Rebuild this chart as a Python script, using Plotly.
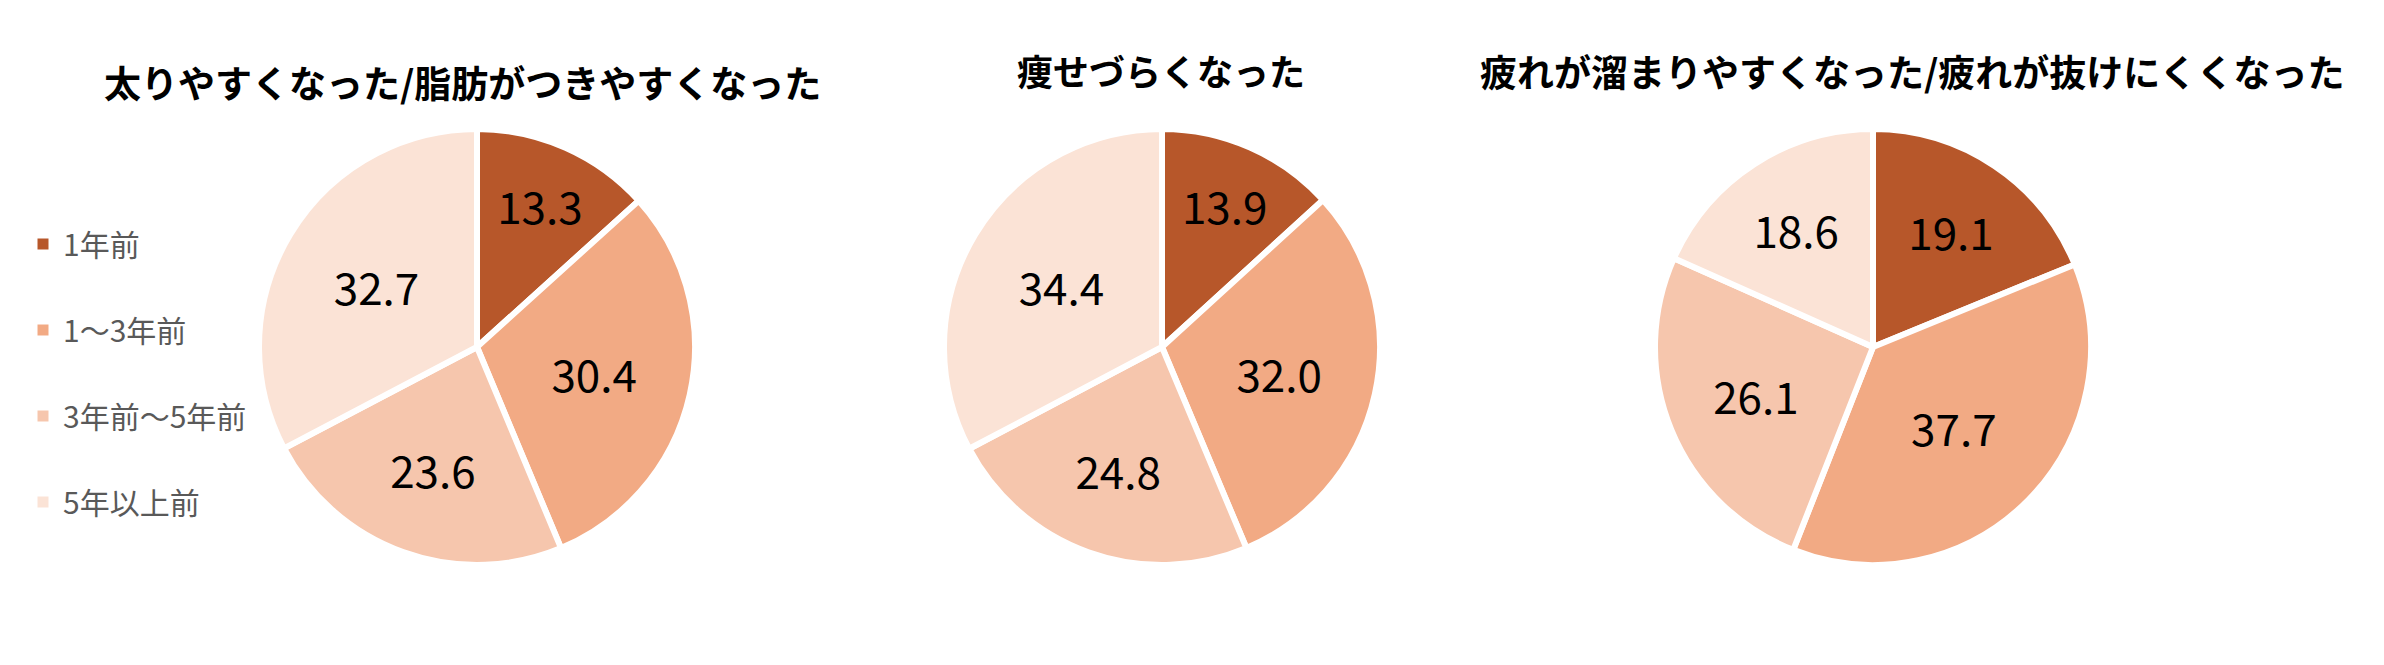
import plotly.graph_objects as go

W, H = 2384, 665

categories = ["1年前", "1～3年前", "3年前～5年前", "5年以上前"]
colors = ["#B7572A", "#F2AA84", "#F6C6AD", "#FBE3D6"]

titles = [
    "太りやすくなった/脂肪がつきやすくなった",
    "痩せづらくなった",
    "疲れが溜まりやすくなった/疲れが抜けにくくなった",
]
values_fat = [13.3, 30.4, 23.6, 32.7]
values_slim = [13.9, 32.0, 24.8, 34.4]
values_tired = [19.1, 37.7, 26.1, 18.6]
all_values = [values_fat, values_slim, values_tired]

# page body has an 8px default margin; compensate so the picture lines up
OFF = 8
centers_x = [477 - OFF, 1162 - OFF, 1873 - OFF]
center_y = 347 - OFF
radius = 218
title_x = [462 - OFF, 1161 - OFF, 1912 - OFF]
title_y = [74, 62, 63]
title_size = [37, 36, 37]

FONT = "Noto Sans CJK JP"

fig = go.Figure()
for i, vals in enumerate(all_values):
    cx = centers_x[i]
    cy_b = H - center_y
    fig.add_trace(go.Pie(
        labels=categories,
        values=vals,
        sort=False,
        direction="clockwise",
        rotation=0,
        marker=dict(colors=colors, line=dict(color="white", width=6)),
        texttemplate="%{value:.1f}",
        textposition="inside",
        insidetextorientation="horizontal",
        insidetextfont=dict(family=FONT, size=44, color="black"),
        hoverinfo="label+value",
        showlegend=False,
        domain=dict(x=[(cx - radius) / W, (cx + radius) / W],
                    y=[(cy_b - radius) / H, (cy_b + radius) / H]),
    ))

# legend entries
for lab, col in zip(categories, colors):
    fig.add_trace(go.Scatter(
        x=[None], y=[None], mode="markers", name=lab, legendgroup=lab,
        marker=dict(symbol="square", size=11, color=col),
        hoverinfo="skip",
    ))

for i, t in enumerate(titles):
    fig.add_annotation(
        text=f"<b>{t}</b>", x=title_x[i] / W, y=1 - title_y[i] / H,
        xref="paper", yref="paper", xanchor="center", yanchor="middle",
        showarrow=False, font=dict(family=FONT, size=title_size[i], color="black"),
    )

fig.update_layout(
    width=W, height=H,
    margin=dict(l=0, r=0, t=0, b=0),
    paper_bgcolor="white", plot_bgcolor="white",
    xaxis=dict(visible=False), yaxis=dict(visible=False),
    font=dict(family=FONT),
    legend=dict(
        x=15 / W, y=1 - 210 / H, xanchor="left", yanchor="top",
        font=dict(family=FONT, size=30, color="#595959"),
        tracegroupgap=44, itemclick=False, itemdoubleclick=False,
        bgcolor="rgba(0,0,0,0)",
    ),
)

fig.write_html("out.html")
